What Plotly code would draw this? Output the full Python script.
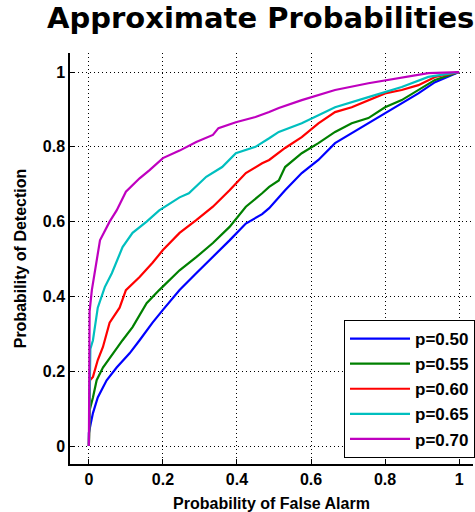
import plotly.graph_objects as go

# ROC curves: probability of false alarm (x) vs probability of detection (y)
labels = ["p=0.50", "p=0.55", "p=0.60", "p=0.65", "p=0.70"]
colors = ["#0000FF", "#008000", "#FF0000", "#00BFBF", "#BF00BF"]

pfa_050 = [0.0, 0.0, 0.005, 0.011, 0.024, 0.048, 0.075, 0.11, 0.137, 0.172, 0.2, 0.245,
           0.29, 0.335, 0.38, 0.424, 0.468, 0.487, 0.513, 0.53, 0.575, 0.62, 0.665,
           0.71, 0.755, 0.80, 0.845, 0.89, 0.935, 1.0]
pd_050 = [0.0, 0.035, 0.06, 0.088, 0.13, 0.176, 0.21, 0.248, 0.283, 0.33, 0.364, 0.417,
          0.462, 0.505, 0.55, 0.595, 0.62, 0.636, 0.666, 0.684, 0.73, 0.765, 0.81,
          0.837, 0.863, 0.89, 0.917, 0.943, 0.973, 1.0]

pfa_055 = [0.0, 0.002, 0.011, 0.021, 0.038, 0.065, 0.091, 0.118, 0.156, 0.19, 0.245,
           0.29, 0.335, 0.38, 0.424, 0.468, 0.487, 0.513, 0.53, 0.575, 0.62, 0.665,
           0.71, 0.755, 0.80, 0.845, 0.89, 0.935, 1.0]
pd_055 = [0.0, 0.096, 0.13, 0.176, 0.21, 0.248, 0.283, 0.318, 0.382, 0.417, 0.47,
          0.505, 0.543, 0.586, 0.64, 0.676, 0.693, 0.71, 0.746, 0.783, 0.81, 0.84,
          0.863, 0.877, 0.906, 0.925, 0.952, 0.979, 1.0]

pfa_060 = [0.0, 0.003, 0.011, 0.024, 0.038, 0.056, 0.083, 0.10, 0.137, 0.172, 0.2,
           0.245, 0.29, 0.335, 0.38, 0.424, 0.468, 0.487, 0.53, 0.575, 0.62, 0.665,
           0.71, 0.755, 0.80, 0.845, 0.89, 0.935, 1.0]
pd_060 = [0.0, 0.176, 0.185, 0.23, 0.265, 0.33, 0.37, 0.417, 0.452, 0.49, 0.524,
          0.57, 0.604, 0.64, 0.684, 0.73, 0.756, 0.765, 0.797, 0.826, 0.863, 0.893,
          0.906, 0.925, 0.943, 0.952, 0.965, 0.987, 1.0]

pfa_065 = [0.0, 0.004, 0.011, 0.024, 0.043, 0.062, 0.091, 0.118, 0.156, 0.19, 0.245,
           0.27, 0.317, 0.36, 0.397, 0.45, 0.487, 0.513, 0.575, 0.665, 0.755, 0.845,
           0.917, 1.0]
pd_065 = [0.0, 0.26, 0.283, 0.37, 0.425, 0.462, 0.532, 0.57, 0.60, 0.63, 0.665,
          0.676, 0.72, 0.746, 0.783, 0.80, 0.823, 0.84, 0.863, 0.906, 0.933, 0.96,
          0.987, 1.0]

pfa_070 = [0.0, 0.002, 0.008, 0.03, 0.056, 0.075, 0.10, 0.137, 0.164, 0.2, 0.245,
           0.29, 0.335, 0.35, 0.397, 0.45, 0.487, 0.513, 0.575, 0.665, 0.755, 0.845,
           0.917, 1.0]
pd_070 = [0.0, 0.36, 0.417, 0.55, 0.60, 0.63, 0.68, 0.716, 0.738, 0.77, 0.79,
          0.813, 0.832, 0.85, 0.866, 0.88, 0.893, 0.904, 0.925, 0.952, 0.97, 0.984,
          0.997, 1.0]

series_x = [pfa_050, pfa_055, pfa_060, pfa_065, pfa_070]
series_y = [pd_050, pd_055, pd_060, pd_065, pd_070]

tick_vals = [0, 0.2, 0.4, 0.6, 0.8, 1]
tick_text = ["0", "0.2", "0.4", "0.6", "0.8", "1"]

FONT = "Liberation Sans, Arial, Helvetica, sans-serif"
TITLE_FONT = "DejaVu Sans, Liberation Sans, sans-serif"

fig = go.Figure()
for i, (xs, ys) in enumerate(zip(series_x, series_y)):
    fig.add_trace(go.Scatter(
        x=xs, y=ys, mode="lines", name=labels[i],
        line=dict(color=colors[i], width=2.2),
    ))

axis_common = dict(
    showline=True, linecolor="black", linewidth=1.5,
    ticks="inside", ticklen=5, tickcolor="black", tickwidth=1,
    showgrid=True, gridcolor="black", gridwidth=1, griddash="1px,3px",
    zeroline=False, tickvals=tick_vals, ticktext=tick_text,
    tickfont=dict(family=FONT, size=16, color="black", weight="bold"),
)

fig.update_layout(
    width=475, height=512,
    margin=dict(l=70, r=0, t=53, b=48),
    paper_bgcolor="white", plot_bgcolor="white",
    title=dict(
        text="<b>Approximate Probabilities</b>",
        font=dict(family=TITLE_FONT, size=29, color="black"),
        x=47 / 475, xanchor="left", xref="container",
        y=0.984, yanchor="top",
    ),
    xaxis=dict(
        range=[-0.051, 1.0376],
        title=dict(text="<b>Probability of False Alarm</b>",
                   font=dict(family=FONT, size=16, color="black"), standoff=11),
        **axis_common,
    ),
    yaxis=dict(
        range=[-0.048, 1.051],
        title=dict(text="<b>Probability of Detection</b>",
                   font=dict(family=FONT, size=16, color="black"), standoff=12),
        **axis_common,
    ),
    legend=dict(
        x=1.006, xanchor="right", y=0.0146, yanchor="bottom",
        bgcolor="white", bordercolor="black", borderwidth=1,
        font=dict(family=FONT, size=17, color="black", weight="bold"),
        itemwidth=60,
    ),
    showlegend=True,
)

fig.write_html("out.html")
